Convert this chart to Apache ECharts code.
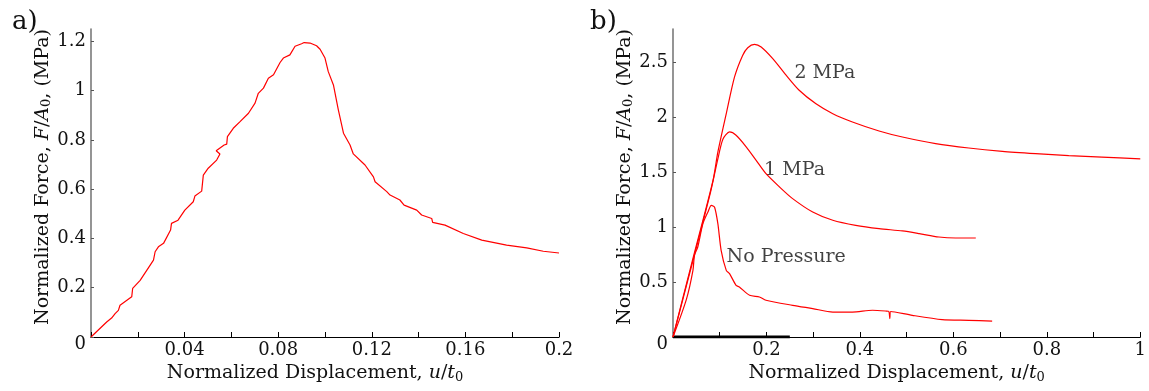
<!DOCTYPE html>
<html>
<head>
<meta charset="utf-8">
<script src="https://cdn.jsdelivr.net/npm/echarts@6/dist/echarts.min.js"></script>
<style>
  html, body { margin: 0; padding: 0; background: #fff; }
  #chart { width: 1149px; height: 391px; }
</style>
</head>
<body>
<div id="chart"></div>
<script>
// panel a) - single test, normalized force vs displacement
const aX = [0, 0.0067, 0.0088, 0.0103, 0.0117, 0.0124, 0.0174, 0.0178, 0.021, 0.0267, 0.0274, 0.0288, 0.031, 0.034, 0.0344, 0.0372, 0.0401, 0.0437, 0.0444, 0.0473, 0.048, 0.0501, 0.0537, 0.0551, 0.0535, 0.0569, 0.058, 0.0583, 0.0608, 0.0637, 0.0673, 0.0701, 0.0715, 0.0737, 0.0758, 0.078, 0.0808, 0.0822, 0.085, 0.0872, 0.09, 0.0911, 0.0936, 0.0964, 0.0979, 0.1, 0.1014, 0.1036, 0.1057, 0.1079, 0.1107, 0.1121, 0.1171, 0.1207, 0.1214, 0.1264, 0.1278, 0.132, 0.1338, 0.1392, 0.1413, 0.1456, 0.146, 0.1513, 0.1591, 0.167, 0.1776, 0.1862, 0.1933, 0.2];
const aY = [0, 0.061, 0.077, 0.095, 0.108, 0.129, 0.163, 0.197, 0.23, 0.312, 0.346, 0.366, 0.38, 0.434, 0.461, 0.474, 0.515, 0.549, 0.572, 0.592, 0.657, 0.685, 0.718, 0.743, 0.756, 0.779, 0.783, 0.813, 0.847, 0.874, 0.908, 0.949, 0.989, 1.01, 1.05, 1.064, 1.114, 1.132, 1.145, 1.18, 1.19, 1.195, 1.193, 1.182, 1.168, 1.132, 1.077, 1.023, 0.922, 0.827, 0.779, 0.743, 0.698, 0.65, 0.63, 0.59, 0.576, 0.556, 0.535, 0.515, 0.495, 0.481, 0.465, 0.454, 0.42, 0.393, 0.373, 0.362, 0.348, 0.341];

// panel b) - three confining pressures
const twoX = [0, 0.04, 0.0854, 0.096, 0.114, 0.1317, 0.149, 0.16, 0.1744, 0.1887, 0.2135, 0.242, 0.27, 0.306, 0.342, 0.384, 0.441, 0.491, 0.562, 0.633, 0.705, 0.776, 0.847, 0.918, 1.0];
const twoY = [0, 0.67, 1.42, 1.68, 2.03, 2.364, 2.56, 2.63, 2.66, 2.636, 2.53, 2.38, 2.243, 2.12, 2.03, 1.955, 1.873, 1.818, 1.758, 1.718, 1.688, 1.667, 1.649, 1.636, 1.62];
const oneX = [0, 0.04, 0.08, 0.096, 0.107, 0.121, 0.135, 0.157, 0.178, 0.199, 0.228, 0.256, 0.299, 0.342, 0.391, 0.441, 0.491, 0.527, 0.569, 0.605, 0.648];
const oneY = [0, 0.65, 1.31, 1.62, 1.8, 1.864, 1.834, 1.727, 1.606, 1.485, 1.364, 1.258, 1.136, 1.061, 1.015, 0.985, 0.964, 0.94, 0.909, 0.9, 0.9];
const noneX = [0, 0.0285, 0.0427, 0.046, 0.053, 0.064, 0.0747, 0.082, 0.089, 0.096, 0.103, 0.114, 0.121, 0.135, 0.142, 0.164, 0.185, 0.199, 0.256, 0.299, 0.342, 0.384, 0.427, 0.456, 0.462, 0.464, 0.466, 0.512, 0.576, 0.633, 0.683];
const noneY = [0, 0.34, 0.606, 0.743, 0.818, 1.03, 1.136, 1.197, 1.18, 1.03, 0.788, 0.606, 0.576, 0.47, 0.455, 0.379, 0.364, 0.334, 0.288, 0.258, 0.227, 0.227, 0.243, 0.236, 0.232, 0.167, 0.232, 0.197, 0.158, 0.152, 0.145];
const baseX = [0, 0.25];
const baseY = [0, 0];

// curve annotations in panel b)
const labelNames = ["2 MPa", "1 MPa", "No Pressure"];
const labelX = [0.26, 0.195, 0.1146];
const labelY = [2.397, 1.515, 0.725];

// tick labels
const aTicks = [0.04, 0.08, 0.12, 0.16, 0.2];
const bTicks = [0.2, 0.4, 0.6, 0.8, 1];

const FONT = "DejaVu Serif";
const INK = "#111";
const RED = "#ff0000";

const zip = (xs, ys) => xs.map((x, i) => [x, ys[i]]);
const hasTick = (list, v) => list.some((t) => Math.abs(t - v) < 1e-6);

function yTitle() {
  return {
    name: "{n|Normalized Force, }{i|F}{n|/}{i|A}{s|0}{n|, (MPa)}",
    nameLocation: "middle",
    nameGap: 36,
    nameTextStyle: {
      padding: [0, 0, 0, 12],
      rich: {
        n: { fontFamily: FONT, fontSize: 19, color: INK },
        i: { fontFamily: FONT, fontSize: 19, fontStyle: "italic", color: INK },
        s: { fontFamily: FONT, fontSize: 13, color: INK, padding: [8, 0, 0, 0] },
      },
    },
  };
}

function xTitle() {
  return {
    name: "{n|Normalized Displacement, }{i|u}{n|/}{i|t}{s|0}",
    nameLocation: "middle",
    nameGap: 24,
    nameTextStyle: {
      padding: [0, 20, 0, 0],
      rich: {
        n: { fontFamily: FONT, fontSize: 19, color: INK },
        i: { fontFamily: FONT, fontSize: 19, fontStyle: "italic", color: INK },
        s: { fontFamily: FONT, fontSize: 13, color: INK, padding: [8, 0, 0, 0] },
      },
    },
  };
}

function xAxis(idx, max, interval, labels) {
  return Object.assign(xTitle(), {
    type: "value",
    gridIndex: idx,
    min: 0,
    max: max,
    interval: interval,
    splitLine: { show: false },
    axisLine: { onZero: false, lineStyle: { color: "#000", width: 1.2 } },
    axisTick: { inside: true, length: 5, lineStyle: { color: "#000" } },
    axisLabel: {
      margin: 4,
      fontFamily: FONT,
      fontSize: 18,
      color: INK,
      formatter: (v) => (hasTick(labels, v) ? String(+v.toFixed(2)) : ""),
    },
  });
}

function yAxis(idx, max, interval) {
  return Object.assign(yTitle(), {
    type: "value",
    gridIndex: idx,
    min: 0,
    max: max,
    interval: interval,
    splitLine: { show: false },
    axisLine: { show: true, lineStyle: { color: "#7a7a7a", width: 1.6 } },
    axisTick: { show: true, inside: true, length: 3, lineStyle: { color: "#555" } },
    axisLabel: {
      margin: 5,
      showMaxLabel: false,
      fontFamily: FONT,
      fontSize: 18,
      color: INK,
      formatter: (v) => (v === 0 ? "{z|0}" : String(+v.toFixed(2))),
      rich: { z: { fontFamily: FONT, fontSize: 18, color: INK, padding: [15, 0, 0, 0] } },
    },
  });
}

const line = (xi, data, color, width, smooth) => ({
  type: "line",
  xAxisIndex: xi,
  yAxisIndex: xi,
  data: data,
  symbol: "none",
  smooth: smooth,
  lineStyle: { color: color, width: width },
  z: 3,
});

const chart = echarts.init(document.getElementById("chart"));
chart.setOption({
  animation: false,
  backgroundColor: "#fff",
  title: [
    { text: "a)", left: 7, top: 4, textStyle: { fontFamily: FONT, fontSize: 26, fontWeight: "normal", color: INK } },
    { text: "b)", left: 585, top: 4, textStyle: { fontFamily: FONT, fontSize: 26, fontWeight: "normal", color: INK } },
  ],
  grid: [
    { left: 91, top: 29, width: 468, height: 308 },
    { left: 673, top: 29, width: 468, height: 308 },
  ],
  xAxis: [xAxis(0, 0.2, 0.02, aTicks), xAxis(1, 1, 0.1, bTicks)],
  yAxis: [yAxis(0, 1.25, 0.2), yAxis(1, 2.8, 0.5)],
  series: [
    line(0, zip(aX, aY), RED, 1.2, false),
    line(1, zip(baseX, baseY), "#000", 3, false),
    line(1, zip(noneX, noneY), RED, 1.2, 0.25),
    line(1, zip(oneX, oneY), RED, 1.2, 0.25),
    line(1, zip(twoX, twoY), RED, 1.2, 0.25),
    {
      type: "scatter",
      xAxisIndex: 1,
      yAxisIndex: 1,
      symbolSize: 0,
      data: labelNames.map((n, i) => ({ name: n, value: [labelX[i], labelY[i]] })),
      label: {
        show: true,
        position: "right",
        distance: 0,
        formatter: (p) => p.name,
        fontFamily: FONT,
        fontSize: 19,
        color: INK,
      },
    },
  ],
});
</script>
</body>
</html>
